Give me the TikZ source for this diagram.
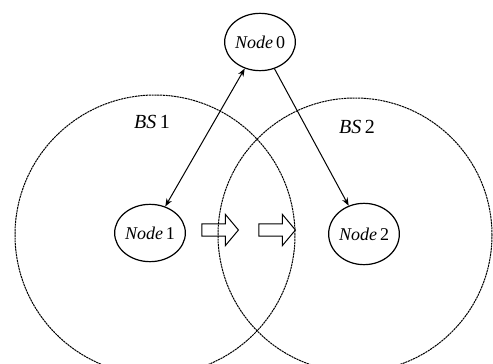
\documentclass[tikz,border=0pt]{standalone}
\usepackage{fontspec}
\setmainfont{Liberation Serif}
\usetikzlibrary{shapes.geometric,shapes.arrows,arrows.meta}
\begin{document}
\begin{tikzpicture}[x=0.75pt,y=-0.75pt,
  nodeell/.style={draw,ellipse,line width=0.9pt,inner sep=0pt,minimum width=49.5pt,minimum height=43pt,font=\fontsize{13.5}{15}\selectfont},
  bscircle/.style={draw,line width=0.75pt,dash pattern=on 1.6pt off 0.5pt},
  bslabel/.style={font=\fontsize{15}{17}\selectfont},
  link/.style={line width=0.75pt,-{Stealth[length=6pt,width=4.5pt]}},
  blockarrow/.style={draw,single arrow,line width=0.75pt,minimum height=27.5pt,minimum width=17pt,single arrow tip angle=100,inner xsep=0pt,inner ysep=4.3pt,text height=0pt,text depth=0pt}
]
\useasboundingbox (0,0) rectangle (493,364);
\fill[white] (0,0) rectangle (493,364);
\begin{scope}
\clip (0,0) rectangle (493,364);
\draw[bscircle] (155,235) circle[radius=105pt];
\draw[bscircle] (355,235) circle[radius=102.75pt];
\end{scope}
\node[bslabel] (bs1) at (152,122) {\textit{BS}\,1};
\node[bslabel] (bs2) at (357,127) {\textit{BS}\,2};
\node[nodeell] (n0) at (260,42) {\textit{Node}\,0};
\node[nodeell] (n1) at (150,233) {\textit{Node}\,1};
\node[nodeell,minimum height=46pt] (n2) at (364,234) {\textit{Node}\,2};
\draw[link,{Stealth[length=6pt,width=4.5pt]}-{Stealth[length=6pt,width=4.5pt]}] (n0) -- (n1);
\draw[link] (n0) -- (n2);
\node[blockarrow] (a1) at (217.5,230) {};
\node[blockarrow] (a2) at (274.5,230) {};
\end{tikzpicture}
\end{document}
